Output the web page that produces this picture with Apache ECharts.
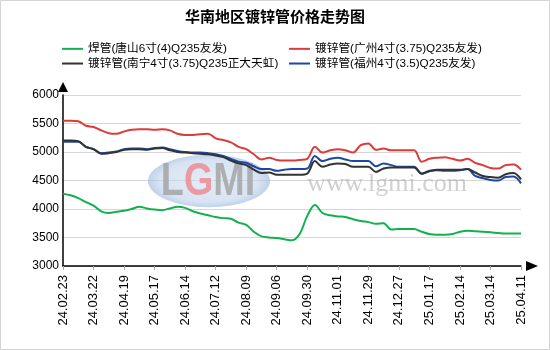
<!DOCTYPE html>
<html>
<head>
<meta charset="utf-8">
<script src="https://cdn.jsdelivr.net/npm/echarts@6.0.0/dist/echarts.min.js"></script>
<style>
  html, body { margin: 0; padding: 0; background: #fff; }
  #chart { width: 550px; height: 350px; }
</style>
</head>
<body>
<div id="chart"></div>
<script>
// Weekly quotation dates (yy.mm.dd)
const dates = [
  '24.02.23','24.03.01','24.03.08','24.03.15','24.03.22','24.03.29','24.04.03','24.04.12',
  '24.04.19','24.04.26','24.04.30','24.05.10','24.05.17','24.05.24','24.05.31','24.06.07',
  '24.06.14','24.06.21','24.06.28','24.07.05','24.07.12','24.07.19','24.07.26','24.08.02',
  '24.08.09','24.08.16','24.08.23','24.08.30','24.09.06','24.09.13','24.09.20','24.09.27',
  '24.09.30','24.10.11','24.10.18','24.10.25','24.11.01','24.11.08','24.11.15','24.11.22',
  '24.11.29','24.12.06','24.12.13','24.12.20','24.12.27','24.12.31','25.01.03','25.01.10',
  '25.01.17','25.01.24','25.01.27','25.02.07','25.02.14','25.02.21','25.02.28','25.03.07',
  '25.03.14','25.03.21','25.03.28','25.04.03','25.04.11'
];

// Prices, yuan/ton
const weldedTangshan = [
  4270,4240,4190,4120,4060,3960,3930,3950,3970,4000,4040,4010,3990,3980,4010,4040,
  4020,3960,3920,3890,3860,3840,3830,3760,3720,3600,3520,3500,3490,3470,3450,3560,
  3880,4070,3930,3890,3870,3860,3820,3790,3770,3740,3750,3640,3650,3650,3650,3600,
  3560,3550,3550,3560,3600,3620,3610,3600,3590,3580,3570,3570,3570
];
const galvGuangzhou = [
  5550,5550,5540,5460,5440,5380,5330,5320,5360,5390,5400,5400,5390,5400,5380,5320,
  5300,5300,5310,5320,5240,5210,5170,5090,5050,4960,4870,4900,4860,4850,4850,4860,
  4880,5090,4990,5030,5050,5030,4990,5120,5150,5040,5060,5030,5030,5030,5030,4830,
  4880,4900,4910,4880,4850,4880,4810,4770,4720,4710,4770,4780,4690
];
const galvNanning = [
  5200,5200,5190,5090,5050,4970,4980,5000,5040,5050,5050,5040,5060,5070,5030,5000,
  4990,4980,4970,4960,4940,4910,4850,4800,4770,4690,4630,4640,4600,4600,4600,4600,
  4620,4840,4740,4780,4800,4790,4740,4740,4740,4650,4710,4730,4730,4730,4730,4620,
  4660,4690,4690,4690,4690,4700,4640,4580,4560,4550,4610,4630,4520
];
const galvFuzhou = [
  5180,5180,5180,5090,5050,4980,4990,5010,5050,5060,5060,5050,5070,5080,5050,5020,
  5000,4990,4990,4980,4960,4930,4880,4830,4810,4750,4700,4700,4670,4690,4700,4700,
  4710,4930,4840,4880,4900,4870,4840,4840,4840,4750,4800,4770,4740,4740,4740,4620,
  4670,4680,4670,4670,4680,4700,4580,4540,4510,4500,4560,4570,4450
];

const seriesNames = [
  '焊管(唐山6寸(4)Q235友发)',
  '镀锌管(广州4寸(3.75)Q235友发)',
  '镀锌管(南宁4寸(3.75)Q235正大天虹)',
  '镀锌管(福州4寸(3.5)Q235友发)'
];
const seriesColors = ['#13b04f', '#dc3b3b', '#333333', '#1c47a6'];

const yMin = 3000, yMax = 6000, yStep = 500;

const FONT = '"Liberation Sans", Arial, "Noto Sans CJK SC", sans-serif';

function lineSeries(idx, data) {
  return {
    name: seriesNames[idx],
    type: 'line',
    data: data,
    smooth: 0.35,
    symbol: 'none',
    z: 3,
    lineStyle: { width: 2, color: seriesColors[idx] },
    itemStyle: { color: seriesColors[idx] }
  };
}

const legendCommon = {
  orient: 'vertical',
  top: 43,
  padding: 0,
  itemWidth: 21,
  itemHeight: 12,
  itemGap: 3,
  icon: 'path://M0,5 L21,5 L21,7 L0,7 Z',
  selectedMode: false,
  textStyle: { fontSize: 11.7, color: '#000', fontFamily: FONT }
};

const chart = echarts.init(document.getElementById('chart'), null, { renderer: 'canvas' });
chart.setOption({
  animation: false,
  backgroundColor: '#fff',
  title: {
    text: '华南地区镀锌管价格走势图',
    left: 'center',
    top: 10,
    padding: 0,
    textStyle: { fontSize: 15, fontWeight: 'bold', color: '#000', fontFamily: FONT }
  },
  legend: [
    Object.assign({}, legendCommon, { left: 62, data: [seriesNames[0], seriesNames[2]] }),
    Object.assign({}, legendCommon, { left: 289, data: [seriesNames[1], seriesNames[3]] })
  ],
  grid: { left: 63, right: 29, top: 95, bottom: 84, containLabel: false, outerBoundsMode: 'none' },
  xAxis: {
    type: 'category',
    data: dates,
    boundaryGap: false,
    axisLine: {
      show: true,
      lineStyle: { color: '#000', width: 1.5 },
      symbol: ['none', 'triangle'],
      symbolSize: [10, 12],
      symbolOffset: [0, 11]
    },
    axisTick: { show: true, interval: 3, length: 4, lineStyle: { color: '#aaa' } },
    axisLabel: {
      interval: 3,
      rotate: 90,
      margin: 9,
      fontSize: 13,
      color: '#000',
      fontFamily: FONT
    },
    splitLine: { show: false }
  },
  yAxis: {
    type: 'value',
    min: yMin,
    max: yMax,
    interval: yStep,
    axisLine: {
      show: true,
      lineStyle: { color: '#000', width: 1.5 },
      symbol: ['none', 'triangle'],
      symbolSize: [10, 10],
      symbolOffset: [0, 8]
    },
    axisTick: { show: false },
    axisLabel: {
      margin: 4,
      fontSize: 12,
      color: '#000',
      fontFamily: FONT,
      formatter: function (v) { return String(v); }
    },
    splitLine: { show: true, lineStyle: { color: '#d6d6d6', width: 1 } }
  },
  graphic: [
    {
      type: 'rect',
      silent: true,
      z: 0,
      shape: { x: 0.5, y: 0.5, width: 549, height: 349 },
      style: { fill: 'none', stroke: '#d4d4d4', lineWidth: 1 }
    },
    {
      type: 'circle',
      silent: true,
      z: 1,
      x: 209, y: 181, scaleY: 0.43,
      shape: { cx: 0, cy: 0, r: 61 },
      style: {
        fill: {
          type: 'radial', x: 0.5, y: 0.5, r: 0.5,
          colorStops: [
            { offset: 0, color: 'rgba(205,222,242,0.55)' },
            { offset: 0.8, color: 'rgba(190,210,235,0.6)' },
            { offset: 1, color: 'rgba(150,180,220,0.6)' }
          ]
        }
      }
    },
    {
      type: 'text',
      silent: true,
      z: 1,
      x: 208, y: 182, scaleX: 0.82,
      style: {
        text: '{g|L}{r|G}{g|MI}',
        align: 'center',
        verticalAlign: 'middle',
        rich: {
          g: { font: 'bold 46px "Liberation Sans", Arial, sans-serif', fill: 'rgba(165,165,165,0.85)' },
          r: { font: 'bold 46px "Liberation Sans", Arial, sans-serif', fill: 'rgba(236,140,148,0.85)' }
        }
      }
    },
    {
      type: 'text',
      silent: true,
      z: 1,
      x: 387, y: 184,
      style: {
        text: 'www.lgmi.com',
        align: 'center',
        verticalAlign: 'middle',
        font: '26px "Liberation Serif", "Times New Roman", serif',
        fill: 'rgba(150,150,150,0.45)'
      }
    }
  ],
  series: [
    lineSeries(0, weldedTangshan),
    lineSeries(1, galvGuangzhou),
    lineSeries(3, galvFuzhou),
    lineSeries(2, galvNanning)
  ]
});
</script>
</body>
</html>
